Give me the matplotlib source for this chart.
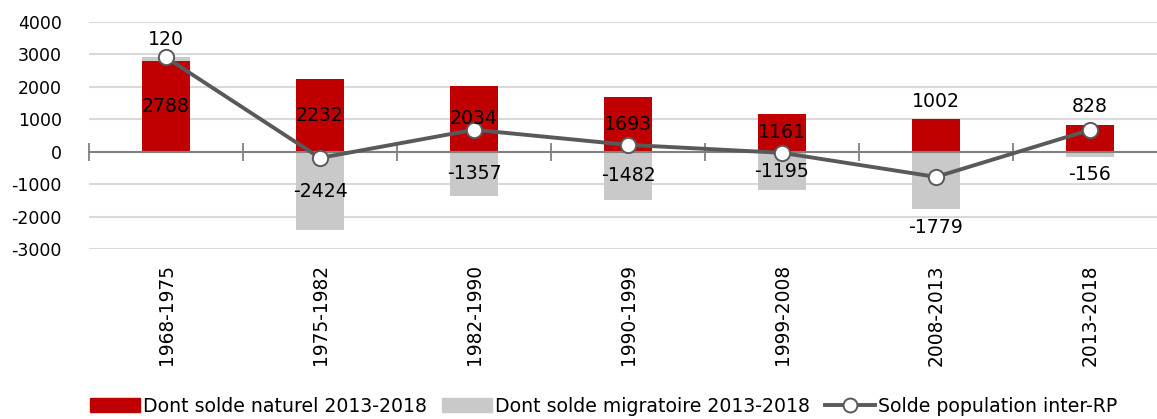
import matplotlib
matplotlib.use("Agg")
import matplotlib.pyplot as plt
import numpy as np
from matplotlib.lines import Line2D
from matplotlib.patches import Patch

# ---- data ----
periods = ["1968-1975", "1975-1982", "1982-1990", "1990-1999", "1999-2008", "2008-2013", "2013-2018"]
solde_naturel = [2788, 2232, 2034, 1693, 1161, 1002, 828]
solde_migratoire = [120, -2424, -1357, -1482, -1195, -1779, -156]
solde_population = [n + m for n, m in zip(solde_naturel, solde_migratoire)]
y_ticks = [-3000, -2000, -1000, 0, 1000, 2000, 3000, 4000]

# label placement style: 'c' = centred in bar, 'o' = outside end
nat_pos = ['c', 'c', 'c', 'c', 'c', 'o', 'o']
mig_pos = ['o', 'c', 'c', 'c', 'c', 'o', 'o']

RED = "#C00000"
GREY = "#C9C9C9"
LINE = "#595959"
FONT = "DejaVu Sans"
FS = 12.5
FS_LAB = 13.6

W, H = 1157, 419
fig = plt.figure(figsize=(W / 100, H / 100), dpi=100)
ax = fig.add_axes([89 / W, 1 - 249 / H, (1167 - 89) / W, (249 - 22) / H])

x = np.arange(len(periods))
nat = np.array(solde_naturel)
mig = np.array(solde_migratoire)
mig_bottom = np.where(mig > 0, nat, 0)

bw = 0.31
ax.bar(x, nat, width=bw, color=RED, zorder=2)
ax.bar(x, mig, width=bw, bottom=mig_bottom, color=GREY, zorder=2)
ax.plot(x, solde_population, color=LINE, lw=2.8, marker='o', ms=11,
        mfc='white', mec=LINE, mew=1.4, zorder=4)

ax.set_xlim(-0.5, len(periods) - 0.5)
ax.set_ylim(-3000, 4000)
ax.set_yticks(y_ticks)
ax.set_yticklabels([str(v) for v in y_ticks], fontsize=FS, family=FONT)
ax.tick_params(axis='y', length=0, pad=19.5)
ax.grid(axis='y', color="#D9D9D9", lw=1.5, zorder=0)
ax.set_axisbelow(True)
for s in ['top', 'right', 'left']:
    ax.spines[s].set_visible(False)
ax.spines['bottom'].set_position(('data', 0))
ax.spines['bottom'].set_color("#808080")
ax.spines['bottom'].set_linewidth(1.5)
ax.spines['bottom'].set_zorder(3)
ax.set_xticks(np.arange(len(periods) + 1) - 0.5)
ax.set_xticklabels([])
ax.tick_params(axis='x', direction='inout', length=13, width=1.3, color="#808080")

sec = ax.secondary_xaxis(0.0)
sec.set_xticks(x)
sec.set_xticklabels(periods, rotation=90, fontsize=13.4, family=FONT, va='top')
sec.tick_params(length=0, pad=11)
sec.spines['bottom'].set_visible(False)

# data labels
def px_to_data(px):
    return px * 7000 / 227.0

off = px_to_data(18)
for i in range(len(periods)):
    n = nat[i]
    if nat_pos[i] == 'c':
        yy = n / 2
    else:
        yy = n + off
    ax.text(x[i], yy, str(n), ha='center', va='center', fontsize=FS_LAB, family=FONT, zorder=5)
    m = mig[i]
    b = mig_bottom[i]
    if mig_pos[i] == 'c':
        yy = b + m / 2
    else:
        yy = (b + m + off) if m > 0 else (b + m - off)
    ax.text(x[i], yy, str(m), ha='center', va='center', fontsize=FS_LAB, family=FONT, zorder=5)

handles = [
    Patch(color=RED, label="Dont solde naturel 2013-2018"),
    Patch(color=GREY, label="Dont solde migratoire 2013-2018"),
    Line2D([0], [0], color=LINE, lw=2.8, marker='o', ms=10, mfc='white', mec=LINE,
           mew=1.4, label="Solde population inter-RP"),
]
fig.legend(handles=handles, loc='center', bbox_to_anchor=(604 / W, 1 - 406 / H), ncol=3,
           frameon=False, prop={'family': FONT, 'size': 13.6}, handlelength=2.6,
           handleheight=0.7, handletextpad=0.2, columnspacing=0.8, borderaxespad=0)

fig.savefig("out.png", dpi=100)
